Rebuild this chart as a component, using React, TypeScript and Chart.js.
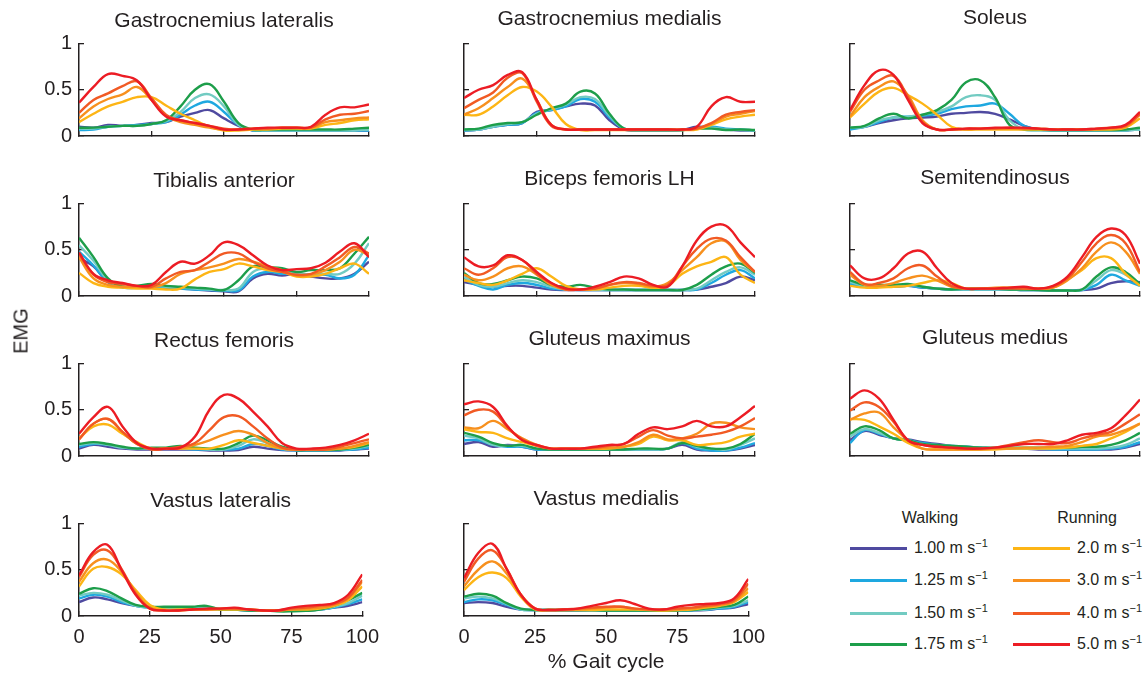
import React, { useEffect, useRef } from 'react';
import { Chart, registerables } from 'chart.js';

Chart.register(...registerables);

const FONT = '"Liberation Sans", Arial, Helvetica, sans-serif';
const INK = '#231f20';

// ---------- data ----------
const GAIT_PCT = [0, 5, 10, 15, 20, 25, 30, 35, 40, 45, 50, 55, 60, 65, 70, 75, 80, 85, 90, 95, 100];
const X_TICKS = [0, 25, 50, 75, 100];
const Y_TICKS = [0, 0.5, 1];

const SPEEDS = ['1.00', '1.25', '1.50', '1.75', '2.0', '3.0', '4.0', '5.0'];
const SPEED_COLORS = ['#4f4aa0', '#1ea8e0', '#72cbc2', '#1d9e4a', '#fdb515', '#f7901e', '#f15a24', '#ec1c24'];

// each muscle: rows = speeds (1.00, 1.25, 1.50, 1.75 walking; 2.0, 3.0, 4.0, 5.0 running), columns = GAIT_PCT
const gastrocnemiusLateralis = [
  [0.10, 0.09, 0.12, 0.11, 0.12, 0.14, 0.15, 0.21, 0.25, 0.28, 0.19, 0.11, 0.06, 0.06, 0.06, 0.06, 0.06, 0.06, 0.06, 0.06, 0.06],
  [0.065, 0.07, 0.10, 0.11, 0.12, 0.13, 0.15, 0.23, 0.33, 0.37, 0.26, 0.12, 0.06, 0.06, 0.06, 0.06, 0.06, 0.06, 0.06, 0.06, 0.06],
  [0.08, 0.08, 0.10, 0.11, 0.11, 0.13, 0.16, 0.26, 0.41, 0.45, 0.32, 0.12, 0.065, 0.06, 0.06, 0.06, 0.06, 0.06, 0.06, 0.06, 0.07],
  [0.09, 0.09, 0.10, 0.11, 0.11, 0.13, 0.17, 0.32, 0.50, 0.56, 0.37, 0.14, 0.07, 0.07, 0.07, 0.07, 0.07, 0.07, 0.07, 0.08, 0.09],
  [0.15, 0.24, 0.32, 0.37, 0.42, 0.42, 0.33, 0.24, 0.17, 0.10, 0.06, 0.06, 0.07, 0.07, 0.08, 0.08, 0.08, 0.12, 0.14, 0.17, 0.18],
  [0.19, 0.32, 0.40, 0.45, 0.53, 0.39, 0.22, 0.15, 0.12, 0.09, 0.07, 0.07, 0.08, 0.08, 0.09, 0.09, 0.09, 0.15, 0.17, 0.19, 0.20],
  [0.25, 0.39, 0.46, 0.54, 0.59, 0.41, 0.23, 0.17, 0.14, 0.11, 0.08, 0.07, 0.08, 0.08, 0.09, 0.09, 0.09, 0.18, 0.23, 0.24, 0.27],
  [0.36, 0.53, 0.67, 0.65, 0.60, 0.39, 0.21, 0.17, 0.14, 0.11, 0.07, 0.07, 0.08, 0.09, 0.09, 0.09, 0.10, 0.23, 0.31, 0.31, 0.34],
];

const gastrocnemiusMedialis = [
  [0.06, 0.07, 0.10, 0.12, 0.14, 0.26, 0.28, 0.32, 0.35, 0.33, 0.17, 0.07, 0.06, 0.06, 0.06, 0.065, 0.10, 0.09, 0.07, 0.06, 0.06],
  [0.06, 0.07, 0.10, 0.12, 0.14, 0.25, 0.28, 0.32, 0.40, 0.37, 0.20, 0.08, 0.06, 0.06, 0.06, 0.065, 0.08, 0.10, 0.08, 0.07, 0.06],
  [0.065, 0.07, 0.10, 0.13, 0.15, 0.24, 0.29, 0.34, 0.42, 0.40, 0.22, 0.08, 0.065, 0.065, 0.065, 0.065, 0.08, 0.09, 0.07, 0.065, 0.06],
  [0.07, 0.08, 0.12, 0.14, 0.15, 0.23, 0.30, 0.35, 0.48, 0.46, 0.24, 0.08, 0.065, 0.065, 0.065, 0.065, 0.08, 0.08, 0.065, 0.07, 0.065],
  [0.23, 0.23, 0.32, 0.44, 0.53, 0.48, 0.32, 0.13, 0.065, 0.065, 0.065, 0.065, 0.065, 0.065, 0.065, 0.065, 0.07, 0.12, 0.18, 0.21, 0.23],
  [0.23, 0.30, 0.41, 0.53, 0.62, 0.39, 0.12, 0.07, 0.07, 0.07, 0.07, 0.07, 0.07, 0.07, 0.07, 0.07, 0.08, 0.13, 0.21, 0.24, 0.27],
  [0.30, 0.39, 0.47, 0.63, 0.68, 0.37, 0.11, 0.07, 0.07, 0.07, 0.07, 0.07, 0.07, 0.07, 0.07, 0.07, 0.08, 0.14, 0.23, 0.26, 0.28],
  [0.41, 0.50, 0.55, 0.66, 0.69, 0.39, 0.12, 0.07, 0.07, 0.07, 0.07, 0.07, 0.07, 0.07, 0.07, 0.07, 0.10, 0.32, 0.42, 0.37, 0.37],
];

const soleus = [
  [0.08, 0.10, 0.14, 0.17, 0.19, 0.20, 0.21, 0.24, 0.25, 0.26, 0.24, 0.18, 0.11, 0.07, 0.06, 0.06, 0.06, 0.06, 0.06, 0.06, 0.07],
  [0.07, 0.10, 0.15, 0.20, 0.21, 0.22, 0.24, 0.29, 0.32, 0.33, 0.35, 0.24, 0.11, 0.07, 0.06, 0.06, 0.06, 0.06, 0.06, 0.06, 0.07],
  [0.09, 0.10, 0.17, 0.20, 0.21, 0.23, 0.26, 0.32, 0.42, 0.44, 0.39, 0.17, 0.07, 0.06, 0.06, 0.06, 0.06, 0.06, 0.06, 0.06, 0.07],
  [0.09, 0.11, 0.19, 0.24, 0.19, 0.23, 0.28, 0.39, 0.58, 0.60, 0.42, 0.12, 0.07, 0.07, 0.065, 0.065, 0.065, 0.065, 0.065, 0.07, 0.09],
  [0.20, 0.35, 0.48, 0.52, 0.44, 0.35, 0.23, 0.10, 0.07, 0.07, 0.07, 0.07, 0.07, 0.07, 0.07, 0.07, 0.07, 0.07, 0.07, 0.09, 0.19],
  [0.21, 0.42, 0.53, 0.59, 0.44, 0.17, 0.07, 0.07, 0.07, 0.08, 0.08, 0.08, 0.08, 0.08, 0.07, 0.07, 0.07, 0.07, 0.08, 0.10, 0.23],
  [0.26, 0.50, 0.60, 0.65, 0.42, 0.15, 0.07, 0.07, 0.08, 0.08, 0.08, 0.09, 0.08, 0.08, 0.07, 0.07, 0.07, 0.08, 0.09, 0.11, 0.24],
  [0.28, 0.55, 0.71, 0.66, 0.39, 0.14, 0.07, 0.07, 0.08, 0.08, 0.09, 0.09, 0.09, 0.08, 0.07, 0.07, 0.07, 0.08, 0.09, 0.12, 0.26],
];

const tibialisAnterior = [
  [0.41, 0.32, 0.15, 0.10, 0.09, 0.09, 0.08, 0.08, 0.07, 0.06, 0.05, 0.05, 0.19, 0.24, 0.22, 0.24, 0.21, 0.19, 0.19, 0.24, 0.37],
  [0.48, 0.33, 0.15, 0.09, 0.09, 0.09, 0.09, 0.08, 0.07, 0.065, 0.06, 0.06, 0.21, 0.26, 0.24, 0.24, 0.23, 0.23, 0.19, 0.23, 0.44],
  [0.55, 0.38, 0.17, 0.10, 0.10, 0.11, 0.10, 0.09, 0.08, 0.07, 0.065, 0.08, 0.26, 0.30, 0.28, 0.25, 0.23, 0.24, 0.24, 0.35, 0.57],
  [0.63, 0.42, 0.19, 0.10, 0.11, 0.13, 0.11, 0.10, 0.09, 0.08, 0.065, 0.17, 0.32, 0.31, 0.30, 0.26, 0.28, 0.28, 0.30, 0.46, 0.64],
  [0.25, 0.14, 0.10, 0.09, 0.08, 0.08, 0.07, 0.08, 0.18, 0.26, 0.29, 0.35, 0.32, 0.28, 0.26, 0.21, 0.21, 0.24, 0.30, 0.35, 0.24],
  [0.42, 0.19, 0.12, 0.10, 0.10, 0.09, 0.14, 0.24, 0.28, 0.31, 0.35, 0.40, 0.37, 0.32, 0.28, 0.22, 0.23, 0.28, 0.37, 0.50, 0.44],
  [0.46, 0.23, 0.15, 0.13, 0.11, 0.10, 0.19, 0.26, 0.28, 0.37, 0.46, 0.46, 0.37, 0.30, 0.26, 0.23, 0.24, 0.32, 0.42, 0.53, 0.46],
  [0.47, 0.24, 0.17, 0.14, 0.11, 0.12, 0.26, 0.37, 0.35, 0.44, 0.58, 0.55, 0.44, 0.33, 0.28, 0.29, 0.30, 0.36, 0.48, 0.57, 0.42],
];

const bicepsFemorisLH = [
  [0.15, 0.12, 0.10, 0.11, 0.11, 0.09, 0.07, 0.065, 0.065, 0.065, 0.065, 0.065, 0.065, 0.065, 0.065, 0.065, 0.07, 0.10, 0.14, 0.21, 0.17],
  [0.18, 0.11, 0.07, 0.12, 0.14, 0.12, 0.08, 0.07, 0.065, 0.065, 0.065, 0.065, 0.065, 0.065, 0.065, 0.065, 0.07, 0.14, 0.23, 0.28, 0.19],
  [0.21, 0.12, 0.10, 0.14, 0.17, 0.15, 0.10, 0.07, 0.07, 0.07, 0.065, 0.065, 0.065, 0.065, 0.065, 0.065, 0.08, 0.17, 0.26, 0.31, 0.23],
  [0.25, 0.14, 0.13, 0.17, 0.21, 0.19, 0.12, 0.10, 0.12, 0.09, 0.07, 0.07, 0.065, 0.065, 0.065, 0.065, 0.12, 0.23, 0.32, 0.35, 0.25],
  [0.17, 0.14, 0.12, 0.17, 0.24, 0.30, 0.21, 0.11, 0.07, 0.07, 0.09, 0.11, 0.11, 0.09, 0.11, 0.24, 0.32, 0.37, 0.42, 0.23, 0.14],
  [0.23, 0.17, 0.21, 0.30, 0.32, 0.23, 0.12, 0.07, 0.07, 0.08, 0.12, 0.14, 0.13, 0.10, 0.14, 0.28, 0.42, 0.57, 0.59, 0.39, 0.26],
  [0.30, 0.23, 0.30, 0.42, 0.39, 0.24, 0.14, 0.07, 0.07, 0.08, 0.12, 0.15, 0.14, 0.11, 0.12, 0.32, 0.51, 0.62, 0.60, 0.42, 0.26],
  [0.42, 0.32, 0.33, 0.44, 0.39, 0.26, 0.14, 0.08, 0.07, 0.10, 0.15, 0.21, 0.19, 0.12, 0.10, 0.32, 0.60, 0.75, 0.76, 0.58, 0.42],
];

const semitendinosus = [
  [0.12, 0.10, 0.10, 0.10, 0.11, 0.09, 0.08, 0.07, 0.07, 0.07, 0.07, 0.07, 0.065, 0.065, 0.06, 0.06, 0.065, 0.08, 0.14, 0.16, 0.15],
  [0.13, 0.10, 0.10, 0.10, 0.11, 0.09, 0.08, 0.07, 0.07, 0.07, 0.07, 0.07, 0.065, 0.065, 0.06, 0.06, 0.065, 0.12, 0.23, 0.17, 0.11],
  [0.15, 0.11, 0.11, 0.11, 0.12, 0.10, 0.08, 0.07, 0.07, 0.07, 0.07, 0.07, 0.065, 0.065, 0.06, 0.06, 0.065, 0.17, 0.28, 0.23, 0.12],
  [0.17, 0.12, 0.12, 0.12, 0.13, 0.10, 0.08, 0.07, 0.08, 0.08, 0.08, 0.07, 0.07, 0.065, 0.06, 0.06, 0.07, 0.21, 0.31, 0.26, 0.13],
  [0.11, 0.09, 0.09, 0.10, 0.11, 0.14, 0.17, 0.14, 0.08, 0.08, 0.08, 0.09, 0.09, 0.08, 0.09, 0.18, 0.28, 0.41, 0.41, 0.24, 0.11],
  [0.23, 0.12, 0.11, 0.14, 0.19, 0.22, 0.17, 0.10, 0.08, 0.08, 0.09, 0.09, 0.08, 0.08, 0.09, 0.17, 0.30, 0.48, 0.58, 0.48, 0.24],
  [0.26, 0.13, 0.14, 0.19, 0.30, 0.33, 0.21, 0.11, 0.08, 0.08, 0.08, 0.08, 0.08, 0.08, 0.10, 0.19, 0.37, 0.57, 0.66, 0.57, 0.26],
  [0.33, 0.19, 0.19, 0.30, 0.46, 0.48, 0.30, 0.14, 0.08, 0.08, 0.08, 0.09, 0.10, 0.08, 0.11, 0.21, 0.42, 0.64, 0.73, 0.66, 0.35],
];

const rectusFemoris = [
  [0.08, 0.12, 0.10, 0.08, 0.07, 0.07, 0.07, 0.07, 0.07, 0.06, 0.06, 0.065, 0.10, 0.08, 0.065, 0.06, 0.06, 0.06, 0.06, 0.07, 0.08],
  [0.10, 0.13, 0.12, 0.09, 0.08, 0.08, 0.08, 0.08, 0.07, 0.07, 0.07, 0.08, 0.13, 0.11, 0.07, 0.06, 0.06, 0.06, 0.065, 0.07, 0.09],
  [0.12, 0.14, 0.12, 0.09, 0.08, 0.08, 0.08, 0.08, 0.08, 0.07, 0.07, 0.11, 0.18, 0.14, 0.08, 0.065, 0.065, 0.065, 0.07, 0.08, 0.11],
  [0.13, 0.15, 0.13, 0.10, 0.08, 0.09, 0.09, 0.11, 0.09, 0.08, 0.08, 0.14, 0.22, 0.17, 0.10, 0.065, 0.065, 0.065, 0.07, 0.09, 0.12],
  [0.19, 0.32, 0.34, 0.24, 0.15, 0.08, 0.08, 0.08, 0.08, 0.08, 0.12, 0.17, 0.14, 0.11, 0.08, 0.07, 0.07, 0.07, 0.08, 0.10, 0.14],
  [0.18, 0.35, 0.40, 0.26, 0.13, 0.08, 0.08, 0.08, 0.12, 0.17, 0.23, 0.27, 0.23, 0.14, 0.08, 0.07, 0.07, 0.07, 0.08, 0.11, 0.15],
  [0.18, 0.35, 0.40, 0.26, 0.13, 0.07, 0.08, 0.10, 0.14, 0.28, 0.42, 0.43, 0.32, 0.19, 0.09, 0.07, 0.07, 0.07, 0.10, 0.14, 0.18],
  [0.24, 0.42, 0.53, 0.32, 0.14, 0.08, 0.08, 0.09, 0.21, 0.50, 0.66, 0.62, 0.48, 0.32, 0.14, 0.08, 0.08, 0.09, 0.12, 0.17, 0.24],
];

const gluteusMaximus = [
  [0.13, 0.15, 0.10, 0.12, 0.10, 0.07, 0.07, 0.07, 0.07, 0.07, 0.07, 0.07, 0.07, 0.07, 0.08, 0.12, 0.07, 0.06, 0.06, 0.08, 0.12],
  [0.17, 0.17, 0.12, 0.10, 0.10, 0.07, 0.07, 0.07, 0.07, 0.07, 0.07, 0.07, 0.07, 0.07, 0.08, 0.14, 0.08, 0.06, 0.06, 0.09, 0.14],
  [0.22, 0.19, 0.12, 0.11, 0.11, 0.08, 0.07, 0.07, 0.07, 0.07, 0.07, 0.07, 0.07, 0.07, 0.08, 0.15, 0.10, 0.08, 0.07, 0.12, 0.19],
  [0.25, 0.21, 0.14, 0.11, 0.12, 0.08, 0.07, 0.07, 0.07, 0.07, 0.07, 0.07, 0.08, 0.08, 0.08, 0.14, 0.11, 0.08, 0.08, 0.13, 0.24],
  [0.29, 0.26, 0.25, 0.19, 0.15, 0.11, 0.08, 0.08, 0.08, 0.08, 0.08, 0.10, 0.13, 0.21, 0.17, 0.17, 0.12, 0.13, 0.15, 0.21, 0.24],
  [0.31, 0.30, 0.38, 0.29, 0.19, 0.12, 0.08, 0.08, 0.08, 0.08, 0.09, 0.10, 0.15, 0.23, 0.18, 0.19, 0.24, 0.35, 0.36, 0.31, 0.29],
  [0.44, 0.50, 0.48, 0.31, 0.18, 0.11, 0.08, 0.08, 0.08, 0.09, 0.11, 0.13, 0.21, 0.28, 0.22, 0.19, 0.21, 0.23, 0.26, 0.32, 0.41],
  [0.56, 0.59, 0.53, 0.32, 0.17, 0.12, 0.08, 0.08, 0.08, 0.10, 0.12, 0.13, 0.24, 0.31, 0.29, 0.32, 0.38, 0.32, 0.32, 0.42, 0.54],
];

const gluteusMedius = [
  [0.17, 0.27, 0.23, 0.19, 0.18, 0.15, 0.13, 0.11, 0.10, 0.09, 0.08, 0.08, 0.08, 0.07, 0.07, 0.07, 0.07, 0.07, 0.07, 0.09, 0.13],
  [0.14, 0.28, 0.24, 0.19, 0.17, 0.14, 0.12, 0.11, 0.10, 0.09, 0.08, 0.08, 0.08, 0.08, 0.07, 0.07, 0.07, 0.07, 0.08, 0.10, 0.15],
  [0.21, 0.29, 0.25, 0.19, 0.17, 0.13, 0.12, 0.11, 0.10, 0.09, 0.08, 0.08, 0.08, 0.08, 0.08, 0.08, 0.08, 0.08, 0.09, 0.12, 0.19],
  [0.24, 0.32, 0.28, 0.19, 0.17, 0.13, 0.12, 0.11, 0.10, 0.09, 0.09, 0.09, 0.09, 0.09, 0.09, 0.09, 0.10, 0.10, 0.12, 0.17, 0.25],
  [0.40, 0.39, 0.32, 0.24, 0.14, 0.08, 0.07, 0.07, 0.07, 0.07, 0.07, 0.08, 0.08, 0.08, 0.08, 0.09, 0.11, 0.13, 0.19, 0.26, 0.35],
  [0.39, 0.46, 0.47, 0.31, 0.17, 0.08, 0.07, 0.07, 0.07, 0.07, 0.08, 0.08, 0.09, 0.09, 0.10, 0.11, 0.15, 0.21, 0.23, 0.28, 0.35],
  [0.49, 0.58, 0.53, 0.37, 0.17, 0.12, 0.10, 0.09, 0.08, 0.08, 0.09, 0.12, 0.15, 0.17, 0.15, 0.14, 0.19, 0.23, 0.26, 0.35, 0.45],
  [0.62, 0.71, 0.62, 0.39, 0.17, 0.12, 0.10, 0.09, 0.08, 0.08, 0.09, 0.11, 0.13, 0.13, 0.13, 0.17, 0.23, 0.25, 0.30, 0.44, 0.61],
];

const vastusLateralis = [
  [0.15, 0.20, 0.18, 0.14, 0.11, 0.09, 0.08, 0.08, 0.08, 0.08, 0.07, 0.07, 0.06, 0.06, 0.06, 0.06, 0.06, 0.07, 0.09, 0.11, 0.15],
  [0.19, 0.23, 0.21, 0.15, 0.11, 0.09, 0.08, 0.08, 0.08, 0.08, 0.07, 0.07, 0.06, 0.06, 0.06, 0.06, 0.06, 0.07, 0.09, 0.13, 0.18],
  [0.22, 0.25, 0.23, 0.17, 0.11, 0.09, 0.09, 0.09, 0.09, 0.09, 0.08, 0.07, 0.06, 0.06, 0.06, 0.06, 0.06, 0.07, 0.10, 0.14, 0.22],
  [0.24, 0.30, 0.27, 0.19, 0.12, 0.10, 0.10, 0.10, 0.10, 0.11, 0.07, 0.07, 0.06, 0.06, 0.05, 0.05, 0.055, 0.07, 0.11, 0.17, 0.25],
  [0.32, 0.51, 0.53, 0.45, 0.28, 0.12, 0.07, 0.07, 0.07, 0.07, 0.07, 0.07, 0.07, 0.06, 0.06, 0.07, 0.07, 0.08, 0.11, 0.17, 0.32],
  [0.37, 0.57, 0.61, 0.48, 0.26, 0.09, 0.06, 0.06, 0.07, 0.07, 0.08, 0.08, 0.07, 0.06, 0.06, 0.07, 0.08, 0.09, 0.12, 0.19, 0.37],
  [0.42, 0.66, 0.71, 0.51, 0.24, 0.08, 0.06, 0.06, 0.07, 0.07, 0.08, 0.08, 0.07, 0.06, 0.06, 0.08, 0.09, 0.11, 0.13, 0.20, 0.39],
  [0.44, 0.69, 0.77, 0.50, 0.23, 0.08, 0.06, 0.06, 0.07, 0.08, 0.08, 0.09, 0.07, 0.06, 0.06, 0.09, 0.11, 0.12, 0.14, 0.23, 0.45],
];

const vastusMedialis = [
  [0.14, 0.15, 0.14, 0.10, 0.07, 0.065, 0.065, 0.06, 0.06, 0.06, 0.06, 0.06, 0.06, 0.06, 0.06, 0.06, 0.06, 0.065, 0.08, 0.09, 0.13],
  [0.15, 0.18, 0.17, 0.12, 0.07, 0.065, 0.065, 0.065, 0.06, 0.06, 0.06, 0.06, 0.06, 0.06, 0.06, 0.06, 0.06, 0.07, 0.08, 0.10, 0.15],
  [0.19, 0.21, 0.19, 0.13, 0.07, 0.065, 0.065, 0.065, 0.065, 0.06, 0.06, 0.06, 0.06, 0.06, 0.06, 0.06, 0.065, 0.07, 0.09, 0.11, 0.17],
  [0.21, 0.24, 0.22, 0.14, 0.08, 0.065, 0.065, 0.065, 0.065, 0.065, 0.06, 0.06, 0.06, 0.06, 0.06, 0.06, 0.065, 0.08, 0.10, 0.12, 0.21],
  [0.28, 0.42, 0.47, 0.41, 0.21, 0.07, 0.065, 0.065, 0.065, 0.065, 0.07, 0.07, 0.07, 0.065, 0.06, 0.065, 0.07, 0.09, 0.11, 0.15, 0.26],
  [0.32, 0.50, 0.59, 0.46, 0.23, 0.08, 0.065, 0.065, 0.07, 0.08, 0.09, 0.10, 0.08, 0.07, 0.065, 0.07, 0.08, 0.10, 0.12, 0.16, 0.30],
  [0.37, 0.62, 0.71, 0.51, 0.23, 0.08, 0.065, 0.07, 0.08, 0.09, 0.10, 0.10, 0.08, 0.07, 0.07, 0.08, 0.09, 0.11, 0.13, 0.17, 0.35],
  [0.41, 0.68, 0.78, 0.51, 0.23, 0.08, 0.065, 0.07, 0.08, 0.11, 0.14, 0.17, 0.13, 0.08, 0.07, 0.10, 0.12, 0.13, 0.14, 0.19, 0.40],
];

const PANELS = [
  { title: 'Gastrocnemius lateralis', series: gastrocnemiusLateralis },
  { title: 'Gastrocnemius medialis', series: gastrocnemiusMedialis },
  { title: 'Soleus', series: soleus },
  { title: 'Tibialis anterior', series: tibialisAnterior },
  { title: 'Biceps femoris LH', series: bicepsFemorisLH },
  { title: 'Semitendinosus', series: semitendinosus },
  { title: 'Rectus femoris', series: rectusFemoris },
  { title: 'Gluteus maximus', series: gluteusMaximus },
  { title: 'Gluteus medius', series: gluteusMedius },
  { title: 'Vastus lateralis', series: vastusLateralis },
  { title: 'Vastus medialis', series: vastusMedialis },
];

// ---------- layout ----------
const COL_LEFT = [79, 464, 850];
const COL_RIGHT = [369, 755, 1140];
const COL_PAD_R = [24, 24, 6];
const TITLE_CENTER = [21.5, 19.5, 18.5];
const ROW_STEP = 160;
const PLOT_TOP = 43.5;
const PLOT_BOTTOM = 136;
const Y_AXIS_SPACE = 60;

function Panel({ title, series, idx }: { title: string; series: number[][]; idx: number }) {
  const ref = useRef<HTMLCanvasElement | null>(null);
  const row = Math.floor(idx / 3);
  const col = idx % 3;
  const lastRow = row === 3;
  const H = lastRow ? 197 : 160;
  const W = Y_AXIS_SPACE + (COL_RIGHT[col] - COL_LEFT[col]) + COL_PAD_R[col];
  const left = COL_LEFT[col] - Y_AXIS_SPACE;
  const top = row * ROW_STEP;

  useEffect(() => {
    const canvas = ref.current;
    if (!canvas) return;
    const titleSize = 21;
    const titleLH = titleSize * 1.2;
    const padTop = TITLE_CENTER[col] - titleLH / 2;
    const padBottom = PLOT_TOP - padTop - titleLH;
    const chart = new Chart(canvas, {
      type: 'line',
      data: {
        datasets: series.map((vals, i) => ({
          label: SPEEDS[i] + ' m s-1',
          data: vals.map((y, j) => ({ x: GAIT_PCT[j], y })),
          borderColor: SPEED_COLORS[i],
          backgroundColor: SPEED_COLORS[i],
          borderWidth: 2.4,
          pointRadius: 0,
          tension: 0.4,
          fill: false,
          order: series.length - i,
        })),
      },
      options: {
        responsive: false,
        animation: false,
        events: [],
        layout: { padding: { left: 0, right: COL_PAD_R[col], top: 0, bottom: 0 } },
        plugins: {
          legend: { display: false },
          tooltip: { enabled: false },
          title: {
            display: true,
            text: title,
            fullSize: false,
            color: INK,
            font: { family: FONT, size: titleSize, weight: 'normal' },
            padding: { top: padTop, bottom: padBottom },
          },
        },
        scales: {
          x: {
            type: 'linear',
            min: 0,
            max: 100,
            afterBuildTicks: (s: any) => {
              s.ticks = X_TICKS.map((v) => ({ value: v }));
            },
            afterFit: (s: any) => {
              s.height = H - PLOT_BOTTOM;
            },
            border: { display: true, color: INK, width: 1.5 },
            grid: { display: true, drawOnChartArea: false, drawTicks: true, tickLength: -5, color: INK, lineWidth: 1.3 },
            ticks: {
              display: lastRow,
              padding: 14,
              color: INK,
              maxRotation: 0,
              autoSkip: false,
              font: { family: FONT, size: 20 },
            },
            title: {
              display: lastRow && col === 1,
              text: '% Gait cycle',
              color: INK,
              font: { family: FONT, size: 21 },
              padding: { top: 0, bottom: 2 },
            },
          },
          y: {
            type: 'linear',
            min: 0,
            max: 1,
            afterBuildTicks: (s: any) => {
              s.ticks = Y_TICKS.map((v) => ({ value: v }));
            },
            afterFit: (s: any) => {
              s.width = Y_AXIS_SPACE;
            },
            border: { display: true, color: INK, width: 1.5 },
            grid: { display: true, drawOnChartArea: false, drawTicks: true, tickLength: -5, color: INK, lineWidth: 1.3 },
            ticks: {
              display: col === 0,
              padding: 12,
              color: INK,
              font: { family: FONT, size: 20 },
              callback: (v: any) => String(v),
            },
          },
        },
      } as any,
    });
    return () => chart.destroy();
  }, []);

  return (
    <canvas
      ref={ref}
      width={W}
      height={H}
      style={{ position: 'absolute', left, top, width: W, height: H }}
    />
  );
}

function LegendRow({ speed, color, x, y }: { speed: string; color: string; x: number; y: number }) {
  return (
    <>
      <div style={{ position: 'absolute', left: x, top: y - 1.5, width: 57, height: 3, background: color }} />
      <div
        style={{
          position: 'absolute',
          left: x + 64,
          top: y,
          transform: 'translateY(-50%)',
          font: `16px ${FONT}`,
          color: INK,
          whiteSpace: 'nowrap',
          lineHeight: '18px',
        }}
      >
        {speed} m s
        <span style={{ fontSize: 11, position: 'relative', top: -6 }}>{'\u22121'}</span>
      </div>
    </>
  );
}

const LEGEND_ROWS_Y = [548, 580, 613, 644];

export default function App() {
  return (
    <div
      style={{
        position: 'absolute',
        left: 0,
        top: 0,
        width: 1146,
        height: 677,
        overflow: 'hidden',
        background: '#ffffff',
        fontFamily: FONT,
      }}
    >
      {PANELS.map((p, i) => (
        <Panel key={p.title} title={p.title} series={p.series} idx={i} />
      ))}
      <div
        style={{
          position: 'absolute',
          left: 21,
          top: 331,
          transform: 'translate(-50%, -50%) rotate(-90deg)',
          font: `20px ${FONT}`,
          color: INK,
          whiteSpace: 'nowrap',
        }}
      >
        EMG
      </div>
      <div style={{ position: 'absolute', left: 930, top: 518, transform: 'translate(-50%, -50%)', font: `16px ${FONT}`, color: INK }}>
        Walking
      </div>
      <div style={{ position: 'absolute', left: 1087, top: 518, transform: 'translate(-50%, -50%)', font: `16px ${FONT}`, color: INK }}>
        Running
      </div>
      {[0, 1, 2, 3].map((i) => (
        <LegendRow key={'w' + i} speed={SPEEDS[i]} color={SPEED_COLORS[i]} x={850} y={LEGEND_ROWS_Y[i]} />
      ))}
      {[4, 5, 6, 7].map((i) => (
        <LegendRow key={'r' + i} speed={SPEEDS[i]} color={SPEED_COLORS[i]} x={1013} y={LEGEND_ROWS_Y[i - 4]} />
      ))}
    </div>
  );
}
